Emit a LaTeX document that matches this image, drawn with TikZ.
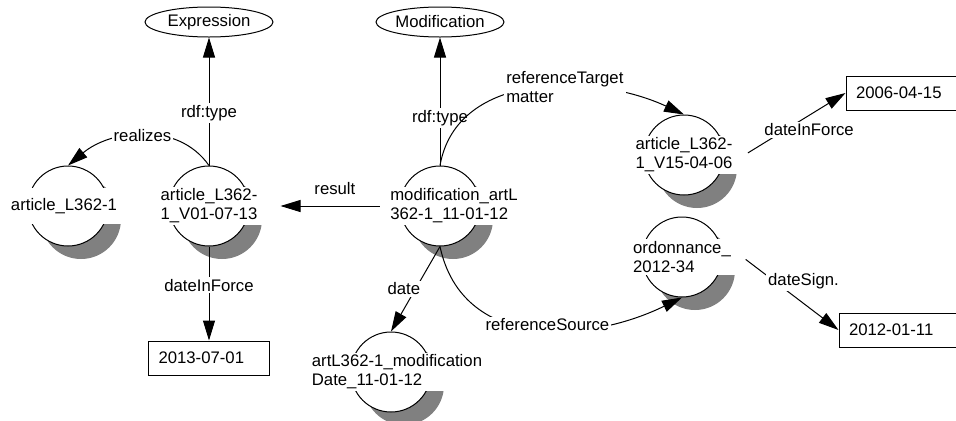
\documentclass[tikz,border=0pt]{standalone}
\usepackage{fontspec}
\setmainfont{Liberation Sans}
\usetikzlibrary{arrows.meta,positioning,shapes.geometric,shadows}

\begin{document}
\begin{tikzpicture}[
  font=\fontsize{11.9}{13.5}\selectfont,
  line width=0.25mm,
  res/.style={draw,circle,fill=white,minimum size=20mm,inner sep=0pt,
    drop shadow={shadow xshift=3.25mm,shadow yshift=-3.25mm,fill=black!50,opacity=1}},
  restext/.style={fill=white,align=left,inner sep=1pt,minimum width=30mm,minimum height=9mm},
  cls/.style={draw,ellipse,minimum width=32mm,minimum height=7.5mm,inner sep=0pt},
  lit/.style={draw,text width=25.25mm,align=left,inner xsep=2.5mm,minimum height=8.5mm},
  lbl/.style={fill=white,inner sep=1.5pt},
  rel/.style={-{Triangle[length=5mm,width=3mm]}}
]
  \useasboundingbox (0,0) rectangle (239mm,-105mm);
  % resources
  \node[res] (v01) at (52.25mm,-51.5mm) {};
  \node[res,left=15mm of v01] (l362) {};
  \node[res,right=37.5mm of v01] (mod) {};
  \node[res,below=21.25mm of mod,xshift=-12.25mm] (moddate) {};
  \node[res,right=40.75mm of mod,yshift=12.75mm] (v15) {};
  \node[res,below=5.25mm of v15,xshift=-0.5mm] (ord) {};
  \node[restext] (v01t) at (v01) {article\_L362-\\1\_V01-07-13};
  \node[restext,xshift=-1mm] (l362t) at (l362) {article\_L362-1};
  \node[restext,xshift=3.5mm] (modt) at (mod) {modification\_artL\\362-1\_11-01-12};
  \node[restext,xshift=1.5mm] (moddatet) at (moddate) {artL362-1\_modification\\Date\_11-01-12};
  \node[restext] (v15t) at (v15) {article\_L362-\\1\_V15-04-06};
  \node[restext] (ordt) at (ord) {ordonnance\_\\2012-34};
  % classes and literals
  \node[cls,above=32mm of v01] (expr) {Expression};
  \node[cls,above=32mm of mod] (modi) {Modification};
  \node[lit,below=23.5mm of v01] (d2013) {2013-07-01};
  \node[lit,right=30.25mm of v15,yshift=15.5mm] (d2006) {2006-04-15};
  \node[lit,right=29mm of ord,yshift=-18.25mm] (d2012) {2012-01-11};
  % properties
  \draw[rel] (v01) -- node[lbl,pos=.41]{rdf:type} (expr);
  \draw[rel] (v01.north) to[out=125,in=40] node[lbl]{realizes} (l362.north);
  \draw[rel] (v01) -- node[lbl,pos=.41]{dateInForce} (d2013);
  \draw[rel,shorten <=2.15mm,shorten >=2.75mm] (modt.west) -- node[above=1.6mm,pos=.45]{result} (v01t.east);
  \draw[rel] (mod) -- node[lbl,pos=.37]{rdf:type} (modi);
  \draw[rel] (mod.north) to[out=80,in=155] node[lbl,align=left,pos=.6]{referenceTarget\\matter} (v15.north);
  \draw[rel] (mod.south) -- node[lbl,xshift=-2.9mm]{date} (moddate.north);
  \draw[rel] (mod.south) to[out=-78,in=-154,looseness=1.1] node[lbl,pos=.55,yshift=1.2mm]{referenceSource} (ord.south);
  \draw[rel,shorten <=1mm] (v15t.east) -- node[lbl,pos=.6,xshift=1mm,yshift=-3mm]{dateInForce} (d2006.west);
  \draw[rel,shorten <=1mm] (ordt.east) -- node[lbl,xshift=3.25mm,yshift=3.1mm]{dateSign.} (d2012.west);
\end{tikzpicture}
\end{document}
